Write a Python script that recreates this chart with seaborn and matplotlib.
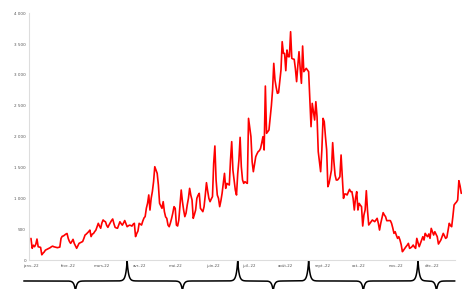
import numpy as np
import pandas as pd
import matplotlib
matplotlib.use("Agg")
import matplotlib.pyplot as plt
import matplotlib.dates as mdates
import matplotlib.transforms as mtransforms
import seaborn as sns

# daily values, 2022
values = [
    350, 190, 240, 215, 255, 340, 215, 210, 205, 85,
    110, 130, 160, 170, 180, 190, 200, 215, 225, 215,
    210, 205, 200, 205, 210, 350, 385, 390, 405, 420,
    430, 350, 300, 270, 300, 335, 270, 230, 190, 230,
    270, 280, 290, 300, 350, 405, 420, 440, 460, 485,
    380, 420, 430, 460, 485, 540, 595, 550, 515, 600,
    650, 630, 620, 560, 530, 570, 605, 640, 665, 590,
    530, 520, 515, 570, 620, 590, 565, 600, 640, 590,
    540, 555, 565, 560, 550, 580, 595, 380, 430, 470,
    595, 580, 567, 630, 680, 705, 840, 920, 1055, 810,
    1000, 1110, 1270, 1513, 1460, 1405, 1216, 919, 880, 838,
    946, 784, 700, 675, 567, 540, 600, 675, 760, 865,
    838, 567, 551, 649, 900, 1135, 950, 811, 703, 760,
    892, 1000, 1162, 1050, 973, 676, 740, 811, 1000, 1050,
    1081, 838, 810, 784, 865, 1050, 1254, 1120, 1000, 946,
    990, 1027, 1567, 1849, 1300, 1054, 1000, 865, 960, 1081,
    1250, 1405, 1162, 1243, 1230, 1216, 1621, 1919, 1459, 1300,
    1135, 1054, 1400, 1621, 1989, 1513, 1300, 1243, 1270, 1255,
    1243, 2297, 2150, 2000, 1594, 1432, 1550, 1675, 1720, 1757,
    1773, 1810, 1900, 2000, 1784, 2821, 2054, 2080, 2108, 2297,
    2500, 2757, 3189, 2919, 2800, 2703, 2713, 2900, 3081, 3540,
    3351, 3351, 3070, 3405, 3297, 3297, 3702, 3270, 3260, 3254,
    3100, 2892, 3150, 3378, 3100, 2865, 3470, 3054, 3080, 3108,
    3080, 3054, 2600, 2162, 2540, 2400, 2270, 2567, 2324, 1757,
    1600, 1432, 1784, 2297, 2243, 2000, 1784, 1189, 1243, 1350,
    1459, 1903, 1600, 1378, 1297, 1297, 1320, 1351, 1703, 1351,
    1000, 1070, 1070, 1054, 1100, 1146, 1108, 1108, 1000, 811,
    1000, 1108, 811, 919, 890, 865, 551, 730, 811, 1124,
    800, 568, 595, 620, 649, 635, 622, 650, 676, 595,
    486, 595, 680, 768, 730, 703, 638, 638, 640, 638,
    595, 520, 432, 459, 400, 351, 378, 324, 250, 135,
    160, 189, 216, 240, 270, 189, 200, 216, 243, 210,
    189, 351, 280, 216, 270, 320, 378, 324, 432, 400,
    378, 422, 351, 513, 460, 405, 459, 420, 378, 259,
    290, 324, 378, 432, 390, 351, 367, 480, 595, 560,
    540, 703, 892, 919, 940, 973, 1286, 1200, 1081,
]
start_date = "2022-01-01"
month_labels = ["janv.-22", "févr.-22", "mars-22", "avr.-22", "mai-22", "juin-22",
                "juil.-22", "août-22", "sept.-22", "oct.-22", "nov.-22", "déc.-22"]
ytick_values = [0, 500, 1000, 1500, 2000, 2500, 3000, 3500, 4000]
# period braces under the axis (start/end dates of each period)
brace_bounds = ["2021-12-26", "2022-03-22", "2022-06-22", "2022-08-20",
                "2022-11-19", "2022-12-19 17:00"]

dates = pd.date_range(start_date, periods=len(values), freq="D")
df = pd.DataFrame({"date": dates, "value": values})

sns.set_style("white")
plt.rcParams["font.family"] = ["DejaVu Sans"]

fig = plt.figure(figsize=(4.62, 2.89), dpi=100)
ax = fig.add_axes([0.0634, 0.1003, 0.9366, 0.8536])

sns.lineplot(data=df, x="date", y="value", color="#ff0000", linewidth=1.2, ax=ax)

t0 = pd.Timestamp(start_date)
ax.set_xlim(t0 - pd.Timedelta(days=1.4), t0 + pd.Timedelta(days=358.6))
ax.set_ylim(0, 4000)

month_starts = pd.date_range(start_date, periods=12, freq="MS")
ax.set_xticks(month_starts)
ax.set_xticklabels(month_labels)
ax.set_yticks(ytick_values)
ax.set_yticklabels([f"{v:,}".replace(",", " ") for v in ytick_values])
ax.tick_params(axis="x", length=0, pad=3.2, labelsize=2.8, labelcolor="#555555")
ax.tick_params(axis="y", length=0, pad=2.4, labelsize=3, labelcolor="#555555")
ax.set_xlabel("")
ax.set_ylabel("")

for s in ["top", "right"]:
    ax.spines[s].set_visible(False)
for s in ["left", "bottom"]:
    ax.spines[s].set_color("#dddddd")
    ax.spines[s].set_linewidth(0.8)
ax.spines["bottom"].set_bounds(mdates.date2num(t0 - pd.Timedelta(days=1.4)),
                               mdates.date2num(pd.Timestamp(brace_bounds[-1])))

# curly braces: sharp cusps at the joints, tips in the middle of each period
bnum = np.array([mdates.date2num(pd.Timestamp(b)) for b in brace_bounds])
mids = (bnum[:-1] + bnum[1:]) / 2
joints = bnum[1:-1]
xs = np.union1d(np.linspace(bnum[0], bnum[-1], 3000), np.concatenate([joints, mids]))
plateau, top, tip = -0.085, -0.004, -0.125
w = 1.2
ys = np.full_like(xs, plateau)
for j in joints:
    ys += (top - plateau) * np.exp(-np.abs(xs - j) / w)
for m in mids:
    ys += (tip - plateau) * np.exp(-np.abs(xs - m) / w)
trans = mtransforms.blended_transform_factory(ax.transData, ax.transAxes)
ax.plot(xs, ys, color="black", linewidth=1.1, transform=trans, clip_on=False)

fig.savefig("out.png", dpi=100)
